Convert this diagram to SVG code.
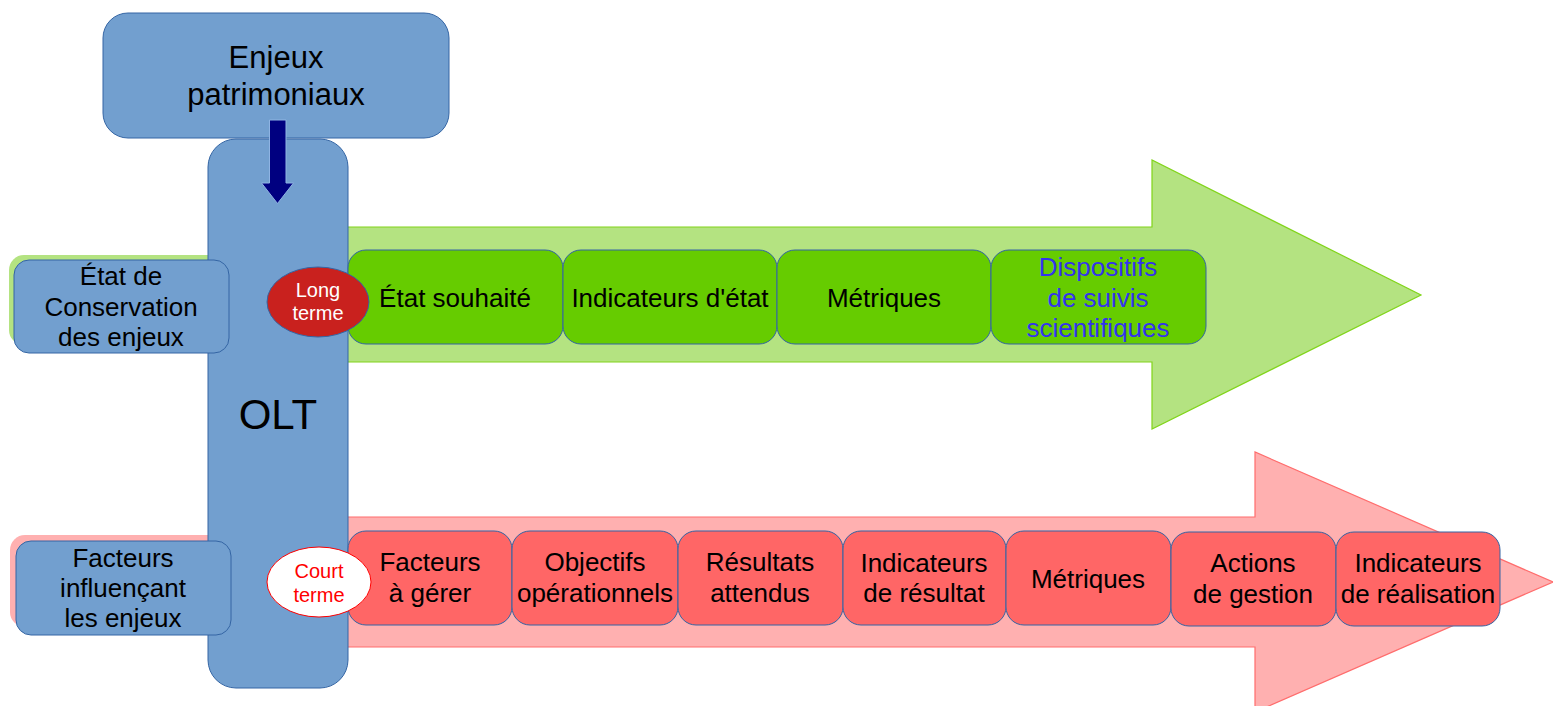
<svg xmlns="http://www.w3.org/2000/svg" width="1553" height="706" viewBox="0 0 1553 706">
<style>
text{font-family:"Liberation Sans",Arial,sans-serif;text-anchor:middle;fill:#000}
.blue{fill:#729fcf;stroke:#3465a4;stroke-width:1}
.gbox{fill:#66cc00;stroke:#3465a4;stroke-width:1}
.rbox{fill:#ff6666;stroke:#3465a4;stroke-width:1}
.t26{font-size:26px}
.sm{font-size:20px}
</style>
<g id="green-arrow"><polygon points="347,227 1152,227 1152,160 1421,295 1152,429 1152,362 347,362" fill="#b4e381" stroke="#81d41a" stroke-width="1.2"/></g>
<g id="red-arrow"><polygon points="347,517 1255,517 1255,452 1553,582 1255,712 1255,647 347,647" fill="#ffb0b0" stroke="#ff6d6d" stroke-width="1.2"/></g>
<g id="backings">
<rect x="9" y="255" width="215" height="90" rx="15" fill="#b4e381"/>
<rect x="10" y="535" width="215" height="92" rx="15" fill="#ffb0b0"/>
</g>
<g id="enjeux"><rect class="blue" x="103" y="13" width="346" height="125" rx="25"/>
<text class="t26" style="font-size:31px"><tspan x="276" y="68">Enjeux</tspan><tspan x="276" y="105">patrimoniaux</tspan></text></g>
<g id="olt"><rect class="blue" x="208" y="139" width="140" height="549" rx="28"/>
<text x="278" y="429" style="font-size:42px">OLT</text></g>
<g id="etat-conservation"><rect class="blue" x="14" y="260" width="215" height="93" rx="15"/>
<text class="t26"><tspan x="121" y="285">État de</tspan><tspan x="121" y="316">Conservation</tspan><tspan x="121" y="346">des enjeux</tspan></text></g>
<g id="facteurs-influencant"><rect class="blue" x="16" y="541" width="215" height="94" rx="15"/>
<text class="t26"><tspan x="123" y="567">Facteurs</tspan><tspan x="123" y="597">influençant</tspan><tspan x="123" y="627">les enjeux</tspan></text></g>
<g id="g1"><rect class="gbox" x="348" y="250" width="215" height="94" rx="18"/><text class="t26" x="455" y="307">État souhaité</text></g>
<g id="g2"><rect class="gbox" x="563" y="250" width="214" height="94" rx="18"/><text class="t26" x="670" y="307">Indicateurs d'état</text></g>
<g id="g3"><rect class="gbox" x="777" y="250" width="214" height="94" rx="18"/><text class="t26" x="884" y="307">Métriques</text></g>
<g id="g4"><rect class="gbox" x="991" y="250" width="215" height="94" rx="18"/><text class="t26" style="fill:#3333ee"><tspan x="1098" y="276">Dispositifs</tspan><tspan x="1098" y="307">de suivis</tspan><tspan x="1098" y="337">scientifiques</tspan></text></g>
<g id="r1"><rect class="rbox" x="348" y="531" width="164" height="94" rx="18"/><text class="t26"><tspan x="430" y="571">Facteurs</tspan><tspan x="430" y="602">à gérer</tspan></text></g>
<g id="r2"><rect class="rbox" x="512" y="531" width="166" height="94" rx="18"/><text class="t26"><tspan x="595" y="571">Objectifs</tspan><tspan x="595" y="602">opérationnels</tspan></text></g>
<g id="r3"><rect class="rbox" x="678" y="531" width="165" height="94" rx="18"/><text class="t26"><tspan x="760" y="571">Résultats</tspan><tspan x="760" y="602">attendus</tspan></text></g>
<g id="r4"><rect class="rbox" x="843" y="531" width="163" height="94" rx="18"/><text class="t26"><tspan x="924" y="572">Indicateurs</tspan><tspan x="924" y="602">de résultat</tspan></text></g>
<g id="r5"><rect class="rbox" x="1006" y="531" width="165" height="94" rx="18"/><text class="t26" x="1088" y="588">Métriques</text></g>
<g id="r6"><rect class="rbox" x="1171" y="532" width="165" height="94" rx="18"/><text class="t26"><tspan x="1253" y="572">Actions</tspan><tspan x="1253" y="603">de gestion</tspan></text></g>
<g id="r7"><rect class="rbox" x="1336" y="532" width="164" height="94" rx="18"/><text class="t26"><tspan x="1418" y="572">Indicateurs</tspan><tspan x="1418" y="603">de réalisation</tspan></text></g>
<g id="long-terme"><ellipse cx="318" cy="302" rx="51" ry="35" fill="#c9211e" stroke="#3465a4" stroke-width="1"/>
<text class="sm" style="fill:#fff"><tspan x="318" y="297">Long</tspan><tspan x="318" y="320">terme</tspan></text></g>
<g id="court-terme"><ellipse cx="319" cy="582" rx="52" ry="35" fill="#fff" stroke="#ff0000" stroke-width="1"/>
<text class="sm" style="fill:#ff0000"><tspan x="319" y="578">Court</tspan><tspan x="319" y="602">terme</tspan></text></g>
<g id="connectors"><polygon points="269.5,120 286,120 286,183 293.5,183 277.5,203.5 261.5,183 269.5,183" fill="#000080" stroke="#8fb4e3" stroke-width="1"/></g>
</svg>
